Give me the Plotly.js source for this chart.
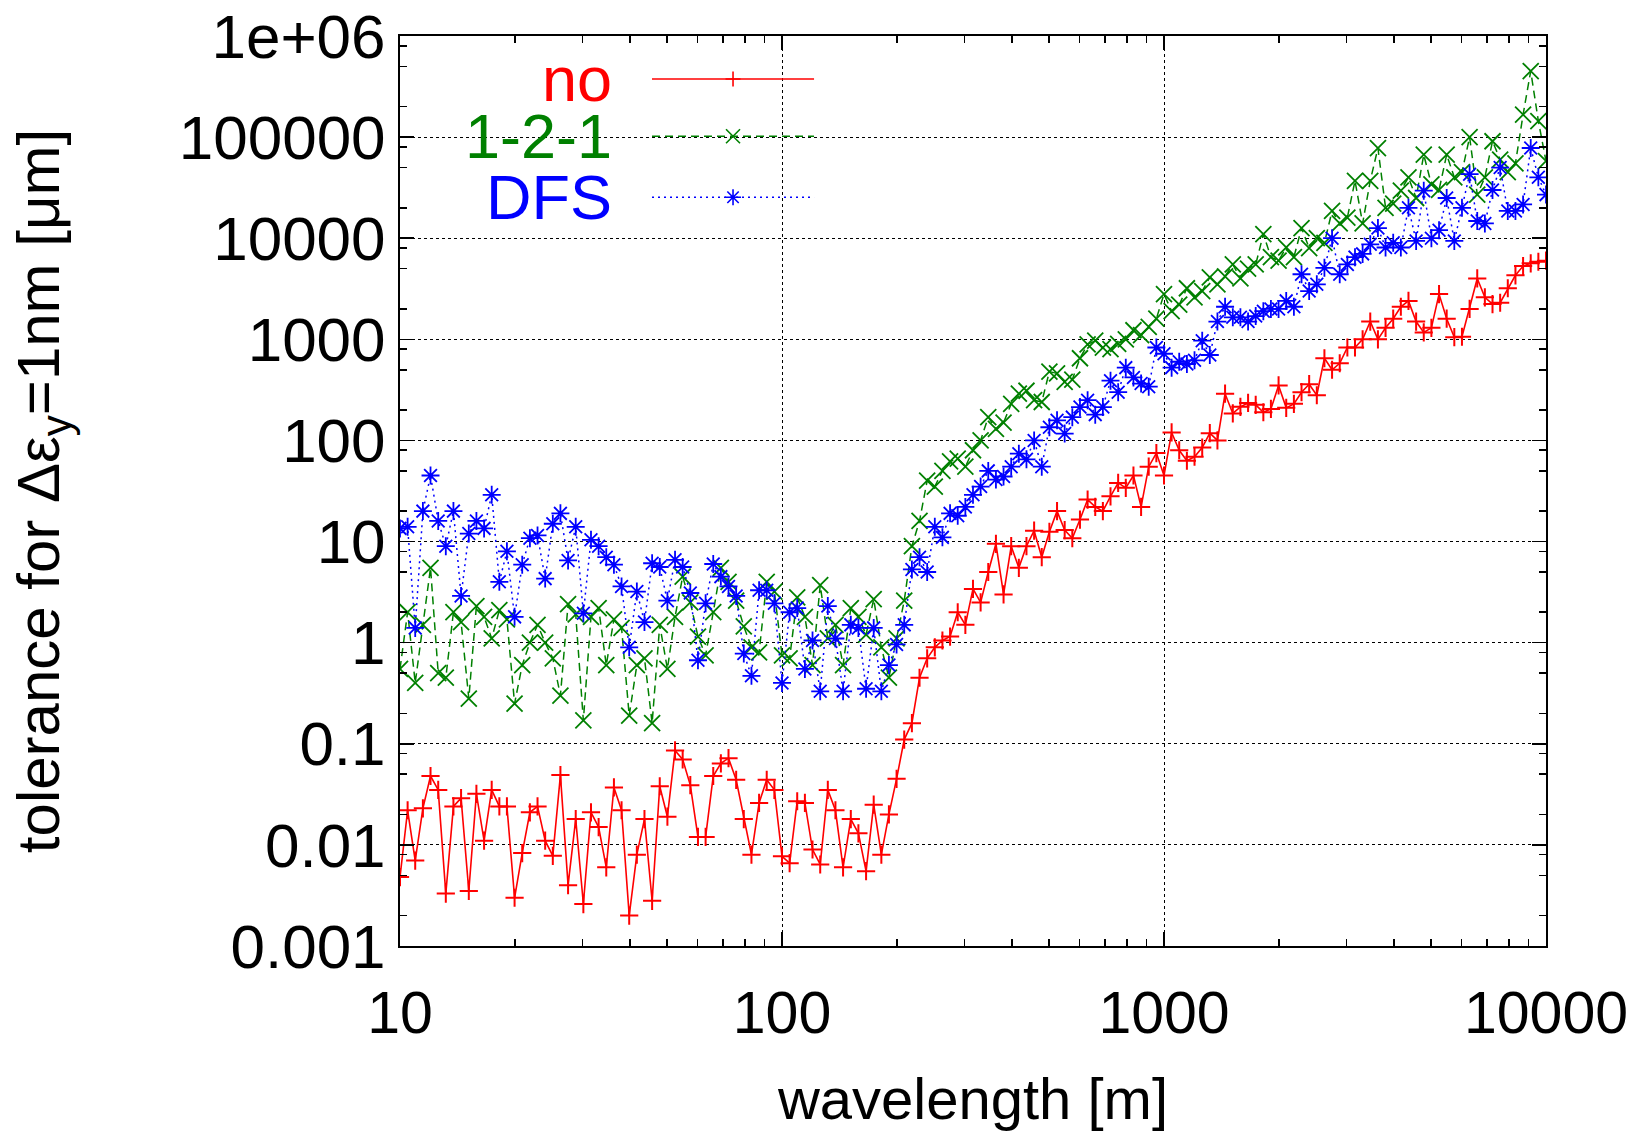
<!DOCTYPE html>
<html>
<head>
<meta charset="utf-8">
<script src="https://cdn.plot.ly/plotly-3.0.1.min.js"></script>
<style>html,body{margin:0;padding:0;background:#fff;}#chart{width:1644px;height:1131px;}</style>
</head>
<body>
<div id="chart"></div>
<script>
// wavelength [m]
const wavelength = [
 10, 10.47, 10.96, 11.48, 12.02, 12.59, 13.18, 13.80, 14.45, 15.14,
 15.85, 16.60, 17.38, 18.20, 19.05, 19.95, 20.89, 21.88, 22.91, 23.99,
 25.12, 26.30, 27.54, 28.84, 30.20, 31.62, 33.11, 34.67, 36.31, 38.02,
 39.81, 41.69, 43.65, 45.71, 47.86, 50.12, 52.48, 54.95, 57.54, 60.26,
 63.10, 66.07, 69.18, 72.44, 75.86, 79.43, 83.18, 87.10, 91.20, 95.50,
 100, 104.7, 109.6, 114.8, 120.2, 125.9, 131.8, 138.0, 144.5, 151.4,
 158.5, 166.0, 173.8, 182.0, 190.5, 199.5, 208.9, 218.8, 229.1, 239.9,
 251.2, 263.0, 275.4, 288.4, 302.0, 316.2, 331.1, 346.7, 363.1, 380.2,
 398.1, 416.9, 436.5, 457.1, 478.6, 501.2, 524.8, 549.5, 575.4, 602.6,
 631.0, 660.7, 691.8, 724.4, 758.6, 794.3, 831.8, 871.0, 912.0, 955.0,
 1000, 1047, 1096, 1148, 1202, 1259, 1318, 1380, 1445, 1514,
 1585, 1660, 1738, 1820, 1905, 1995, 2089, 2188, 2291, 2399,
 2512, 2630, 2754, 2884, 3020, 3162, 3311, 3467, 3631, 3802,
 3981, 4169, 4365, 4571, 4786, 5012, 5248, 5495, 5754, 6026,
 6310, 6607, 6918, 7244, 7586, 7943, 8318, 8710, 9120, 9550, 10000
];
// tolerance [um], no correction
const tolNo = [
 0.0048, 0.022, 0.007, 0.023, 0.048, 0.035, 0.0033, 0.024, 0.029, 0.0035,
 0.032, 0.011, 0.035, 0.024, 0.024, 0.003, 0.0083, 0.021, 0.024, 0.011,
 0.0078, 0.049, 0.004, 0.018, 0.0026, 0.021, 0.015, 0.006, 0.037, 0.022,
 0.002, 0.008, 0.018, 0.0028, 0.038, 0.019, 0.086, 0.07, 0.039, 0.012,
 0.012, 0.048, 0.064, 0.072, 0.044, 0.018, 0.008, 0.026, 0.044, 0.035,
 0.0077, 0.0066, 0.027, 0.026, 0.009, 0.0064, 0.035, 0.022, 0.006, 0.018,
 0.013, 0.0055, 0.025, 0.008, 0.02, 0.045, 0.11, 0.16, 0.45, 0.7,
 0.9, 1.05, 1.15, 2.0, 1.5, 3.4, 2.5, 5.0, 9.5, 3.0,
 9.0, 5.5, 9.0, 12.8, 7.0, 12.5, 20, 13, 10.8, 16.5,
 26, 22, 20, 28, 38, 34, 45, 22, 55, 75,
 45, 120, 80, 63, 69, 85, 118, 100, 290, 185,
 215, 235, 225, 190, 205, 350, 210, 230, 300, 360,
 280, 650, 500, 580, 830, 830, 1000, 1500, 1000, 1300,
 1600, 2100, 2400, 1500, 1170, 1300, 2800, 1600, 1050, 1060,
 2000, 4000, 2600, 2230, 2300, 3200, 4300, 5300, 5650, 5850, 6000
];
// tolerance [um], 1-2-1 correction
const tol121 = [
 0.55, 2.0, 0.4, 1.5, 5.5, 0.5, 0.45, 2.0, 1.6, 0.28,
 2.3, 1.8, 1.1, 2.1, 1.7, 0.25, 0.6, 1.0, 1.5, 1.0,
 0.7, 0.3, 2.4, 1.9, 0.17, 1.8, 2.2, 0.6, 1.7, 1.4,
 0.19, 0.6, 0.7, 0.16, 1.5, 0.55, 1.8, 4.5, 2.5, 1.15,
 0.75, 2.0, 5.5, 4.0, 2.6, 1.45, 0.9, 0.8, 4.0, 3.2,
 0.75, 0.7, 2.8, 1.8, 0.6, 3.7, 1.1, 1.5, 0.6, 2.2,
 1.8, 1.2, 2.7, 0.9, 0.45, 1.1, 2.6, 9, 16, 40,
 35, 50, 62, 66, 55, 80, 100, 170, 130, 150,
 230, 290, 310, 250, 240, 480, 460, 380, 400, 650,
 890, 970, 830, 800, 900, 1000, 1230, 1100, 1330, 1600,
 2800, 1900, 2200, 3200, 2600, 3000, 4100, 3500, 4200, 5500,
 4000, 5000, 5500, 11000, 6500, 6000, 8100, 6500, 12600, 8000,
 10000, 9000, 18600, 14000, 16000, 37000, 14000, 37000, 78000, 20000,
 22000, 29500, 40000, 25000, 67000, 34000, 30000, 67000, 40000, 45000,
 100000, 27000, 40000, 91000, 60000, 45000, 55000, 167000, 450000, 144000, 58000
];
// tolerance [um], DFS correction
const tolDFS = [
 13.5, 14, 1.4, 20, 45, 16, 9, 20, 2.9, 12,
 16, 13.5, 29, 4, 8, 1.8, 5.9, 10.8, 11.5, 4.3,
 15, 19, 6.5, 14, 1.95, 10.4, 9, 7, 5.9, 3.6,
 0.9, 3.2, 1.6, 6.1, 5.6, 2.6, 6.6, 5.6, 3.1, 0.67,
 2.45, 6, 4.5, 3.6, 2.9, 0.78, 0.47, 3.3, 3.3, 2.45,
 0.4, 2.0, 2.2, 0.55, 1.05, 0.33, 2.3, 1.1, 0.33, 1.5,
 1.4, 0.35, 1.4, 0.33, 0.6, 0.96, 1.5, 5.3, 7, 5,
 14, 11, 19, 18, 22, 29, 35, 50, 41, 44,
 55, 74, 65, 100, 55, 135, 158, 117, 170, 214,
 250, 180, 214, 390, 300, 525, 420, 365, 340, 830,
 720, 525, 600, 570, 620, 970, 700, 1500, 2100, 1650,
 1650, 1500, 1700, 1900, 2000, 2000, 2400, 2100, 4400, 3000,
 3500, 5100, 10000, 4400, 5500, 6500, 7000, 8700, 12600, 8100,
 9000, 8100, 20000, 9400, 29500, 10000, 12000, 25000, 9400, 20000,
 43000, 14800, 14000, 30000, 50000, 18600, 18600, 21600, 78000, 40000, 27000
];
const seriesNames = ['no', '1-2-1', 'DFS'];
const xTickVals = [10, 100, 1000, 10000];
const xTickText = ['10', '100', '1000', '10000'];
const yTickVals = [0.001, 0.01, 0.1, 1, 10, 100, 1000, 10000, 100000, 1000000];
const yTickText = ['0.001', '0.01', '0.1', '1', '10', '100', '1000', '10000', '100000', '1e+06'];

const RED = '#ff0000', GREEN = '#008000', BLUE = '#0000ff';
const FONT = 'Liberation Sans, Arial, Helvetica, sans-serif';

// minor tick positions
const xMinor = [];
[10, 100, 1000].forEach(d => { for (let k = 2; k <= 9; k++) xMinor.push(k * d); });
const yMinor = [];
[0.001, 0.01, 0.1, 1, 10, 100, 1000, 10000, 100000].forEach(d => { [2, 5, 8].forEach(k => yMinor.push(k * d)); });

const traces = [
  {x: wavelength, y: tolNo, name: seriesNames[0], type: 'scatter', mode: 'lines+markers',
   line: {color: RED, width: 1.6},
   marker: {symbol: 'cross-thin-open', size: 13, color: RED, line: {color: RED, width: 2}}},
  {x: wavelength, y: tol121, name: seriesNames[1], type: 'scatter', mode: 'lines+markers',
   line: {color: GREEN, width: 1.5, dash: '8px,5px'},
   marker: {symbol: 'x-thin-open', size: 16, color: GREEN, line: {color: GREEN, width: 1.8}}},
  {x: wavelength, y: tolDFS, name: seriesNames[2], type: 'scatter', mode: 'lines+markers',
   line: {color: BLUE, width: 1.5, dash: '2px,4px'},
   marker: {symbol: 'asterisk-open', size: 15, color: BLUE, line: {color: BLUE, width: 1.8}}}
];

// key (gnuplot style: text right-aligned, sample to the right)
const keyRows = [0.9528, 0.8898, 0.8228];
const keyColors = [RED, GREEN, BLUE];
const keyDash = ['solid', '8px,5px', '2px,4px'];
const keyGlyph = [
  'M -7.5 0 L 7.5 0 M 0 -7.5 L 0 7.5',
  'M -7 -7 L 7 7 M -7 7 L 7 -7',
  'M -8 0 L 8 0 M 0 -8 L 0 8 M -5.7 -5.7 L 5.7 5.7 M -5.7 5.7 L 5.7 -5.7'
];
const shapes = [
  {type: 'rect', xref: 'paper', yref: 'paper', x0: 0.002, x1: 0.389, y0: 0.79, y1: 0.998,
   fillcolor: 'white', line: {width: 0}, layer: 'between'},
  {type: 'rect', xref: 'paper', yref: 'paper', x0: 0.330, x1: 0.337, y0: 0.6735, y1: 0.998,
   fillcolor: 'white', line: {width: 0}, layer: 'between'}
];
const annotations = [];
keyRows.forEach((yy, k) => {
  shapes.push({type: 'line', xref: 'paper', yref: 'paper', x0: 0.2199, x1: 0.3613, y0: yy, y1: yy,
    line: {color: keyColors[k], width: 1.4, dash: keyDash[k]}});
  shapes.push({type: 'path', xref: 'paper', yref: 'paper', xsizemode: 'pixel', ysizemode: 'pixel',
    xanchor: 0.2906, yanchor: yy, path: keyGlyph[k], line: {color: keyColors[k], width: 1.6}});
  annotations.push({xref: 'paper', yref: 'paper', x: 0.1859, y: yy, xanchor: 'right', yanchor: 'middle',
    height: 54, valign: 'middle', borderpad: 0,
    text: seriesNames[k], showarrow: false, font: {family: FONT, size: 63, color: keyColors[k]}});
});

const axisCommon = {
  type: 'log', showline: true, linecolor: 'black', linewidth: 2, mirror: 'allticks',
  ticks: 'inside', ticklen: 14, tickwidth: 1.5, tickcolor: 'black',
  showgrid: true, gridcolor: '#000000', gridwidth: 1, griddash: 'dot', zeroline: false,
  tickmode: 'array'
};

const layout = {
  width: 1644, height: 1131, autosize: false,
  margin: {l: 400, r: 98, t: 36, b: 185, pad: 0},
  paper_bgcolor: 'white', plot_bgcolor: 'white',
  font: {family: FONT, color: 'black', size: 56},
  showlegend: false,
  xaxis: Object.assign({}, axisCommon, {
    range: [1, 4], tickvals: xTickVals, ticktext: xTickText,
    tickfont: {family: FONT, size: 59, color: 'black'}, ticklabelstandoff: 14,
    title: {text: 'wavelength [m]', font: {family: FONT, size: 58, color: 'black'}, standoff: 36},
    minor: {tickmode: 'array', tickvals: xMinor, ticks: 'inside', ticklen: 7, tickwidth: 1.5, tickcolor: 'black', showgrid: false}
  }),
  yaxis: Object.assign({}, axisCommon, {
    range: [-3, 6], tickvals: yTickVals, ticktext: yTickText,
    tickfont: {family: FONT, size: 62, color: 'black'}, ticklabelstandoff: 0,
    title: {text: 'tolerance for \u0394\u03b5<sub>y</sub>=1nm [\u03bcm]', font: {family: FONT, size: 60, color: 'black'}, standoff: 100},
    minor: {tickmode: 'array', tickvals: yMinor, ticks: 'inside', ticklen: 7, tickwidth: 1.5, tickcolor: 'black', showgrid: false}
  }),
  shapes: shapes,
  annotations: annotations
};

Plotly.newPlot('chart', traces, layout, {displayModeBar: false, staticPlot: true});
</script>
</body>
</html>
